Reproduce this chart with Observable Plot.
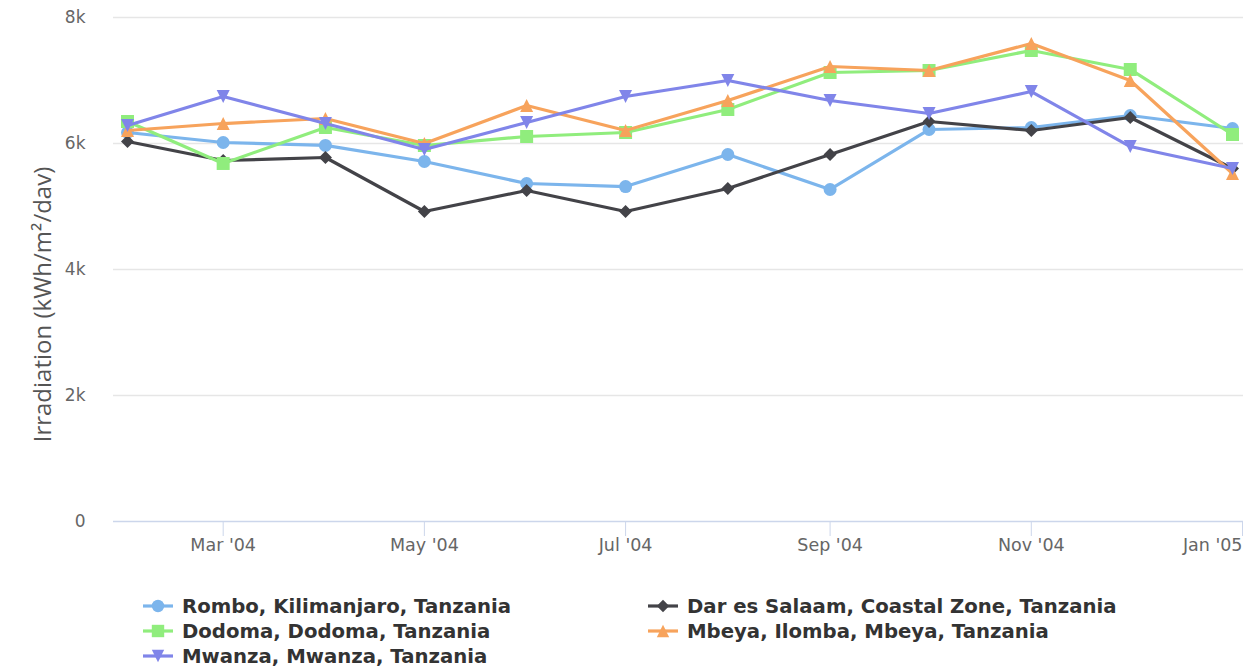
<!DOCTYPE html>
<html><head><meta charset="utf-8">
<script src="https://cdn.jsdelivr.net/npm/d3@7"></script>
<script src="https://cdn.jsdelivr.net/npm/@observablehq/plot@0.6"></script>
<style>
body{margin:0;background:#fff;}
#wrap{position:relative;width:1258px;height:672px;overflow:hidden;background:#fff;}
.leg{position:absolute;height:26px;display:flex;align-items:center;font-family:"DejaVu Sans",sans-serif;font-weight:bold;font-size:19.7px;color:#333;white-space:nowrap;}
.leg svg{margin-right:9px;flex:none;}
</style></head><body><div id="wrap"></div>
<script>
// ---- data ----
const months = ["2004-02-01","2004-03-01","2004-04-01","2004-05-01","2004-06-01","2004-07-01",
                "2004-08-01","2004-09-01","2004-10-01","2004-11-01","2004-12-01","2005-01-01"];
const seriesNames = ["Rombo, Kilimanjaro, Tanzania","Dar es Salaam, Coastal Zone, Tanzania",
                     "Dodoma, Dodoma, Tanzania","Mbeya, Ilomba, Mbeya, Tanzania","Mwanza, Mwanza, Tanzania"];
const rombo   = [6175,6016,5970,5714,5365,5317,5825,5270,6222,6254,6444,6238];
const dar     = [6032,5730,5778,4921,5254,4921,5286,5825,6349,6206,6413,5603];
const dodoma  = [6349,5683,6254,5968,6111,6175,6540,7127,7159,7476,7175,6143];
const mbeya   = [6206,6317,6397,6000,6603,6206,6683,7222,7159,7587,7000,5524];
const mwanza  = [6286,6746,6317,5905,6333,6746,7000,6683,6476,6825,5952,5603];
const seriesValues = [rombo, dar, dodoma, mbeya, mwanza];
const colors = ["#7cb5ec","#434348","#90ed7d","#f7a35c","#8085e9"];
const yTicks = [0,2000,4000,6000,8000];
const yTickLabels = ["0","2k","4k","6k","8k"];
const xTicks = ["2004-03-01","2004-05-01","2004-07-01","2004-09-01","2004-11-01","2005-01-01"];
const xTickLabels = ["Mar '04","May '04","Jul '04","Sep '04","Nov '04","Jan '05"];
const yTitle = "Irradiation (kWh/m²/dav)";

// ---- symbols ----
const mk = f => ({draw(ctx, size){ const r = Math.sqrt(size / Math.PI); f(ctx, r); }});
const symbols = [
  mk((c,r)=>{ c.moveTo(r,0); c.arc(0,0,r,0,2*Math.PI); c.closePath(); }),
  mk((c,r)=>{ c.moveTo(0,-r); c.lineTo(r,0); c.lineTo(0,r); c.lineTo(-r,0); c.closePath(); }),
  mk((c,r)=>{ c.moveTo(-r,-r); c.lineTo(r,-r); c.lineTo(r,r); c.lineTo(-r,r); c.closePath(); }),
  mk((c,r)=>{ c.moveTo(0,-r); c.lineTo(r,r); c.lineTo(-r,r); c.closePath(); }),
  mk((c,r)=>{ c.moveTo(0,r); c.lineTo(r,-r); c.lineTo(-r,-r); c.closePath(); })
];

const parse = s => new Date(s + "T00:00:00Z");
const tables = seriesValues.map((vals, i) => months.map((m, j) => ({date: parse(m), value: vals[j], series: seriesNames[i]})));
const xTickDates = xTicks.map(parse);
const fmtX = d => xTickLabels[xTickDates.findIndex(t => +t === +d)];
const fmtY = v => yTickLabels[yTicks.indexOf(v)];

const marks = [
  Plot.gridY(yTicks.filter(v => v > 0), {stroke: "#e6e6e6", strokeOpacity: 1, strokeWidth: 1.3}),
  Plot.ruleY([0], {stroke: "#ccd6eb", strokeWidth: 1.5}),
  Plot.axisY(yTicks, {tickSize: 0, tickPadding: 28, tickFormat: fmtY, fontSize: 17, fill: "#666", label: null,
    fontFamily: "DejaVu Sans"}),
  Plot.axisX(xTickDates.slice(0, 5), {tickSize: 15, tickPadding: 2, tickFormat: fmtX, fontSize: 17.5, fill: "#666",
    stroke: "#ccd6eb", strokeOpacity: 1, label: null, fontFamily: "DejaVu Sans"}),
  Plot.axisX(xTickDates.slice(5), {tickSize: 15, tickPadding: 2, tickFormat: fmtX, fontSize: 17.5, fill: "#666",
    stroke: "#ccd6eb", strokeOpacity: 1, label: null, fontFamily: "DejaVu Sans", textAnchor: "end", dx: 10}),
  Plot.text([yTitle], {frameAnchor: "left", dx: -70, dy: 35, rotate: -90, fontSize: 24, fill: "#555",
    fontFamily: "Open Sans", lineAnchor: "middle", textAnchor: "middle"})
];
tables.forEach((t, i) => {
  marks.push(Plot.line(t, {x: "date", y: "value", stroke: colors[i], strokeWidth: 3.2}));
  marks.push(Plot.dot(t, {x: "date", y: "value", fill: colors[i], r: 6.5, symbol: symbols[i], stroke: "none"}));
});

const chart = Plot.plot({
  width: 1258, height: 580,
  marginLeft: 113, marginRight: 15, marginTop: 17, marginBottom: 59,
  x: {type: "utc", domain: [new Date(Date.UTC(2004,0,27,18)), new Date(Date.UTC(2005,0,4,8))], axis: null},
  y: {domain: [0, 8000], axis: null},
  style: {background: "#fff", overflow: "visible"},
  marks
});
const wrap = document.getElementById("wrap");
wrap.appendChild(chart);

// ---- legend (HTML, below the SVG) ----
const legPos = [[143,593],[648,593],[143,618],[648,618],[143,643]];
seriesNames.forEach((name, i) => {
  const d = document.createElement("div");
  d.className = "leg";
  d.style.left = legPos[i][0] + "px";
  d.style.top = legPos[i][1] + "px";
  const s = d3.create("svg").attr("width", 30).attr("height", 16);
  s.append("line").attr("x1", 0).attr("x2", 30).attr("y1", 8).attr("y2", 8).attr("stroke", colors[i]).attr("stroke-width", 3.2);
  const p = d3.path();
  symbols[i].draw(p, Math.PI * 6.2 * 6.2);
  s.append("path").attr("transform", "translate(15,8)").attr("d", p.toString()).attr("fill", colors[i]);
  d.appendChild(s.node());
  const span = document.createElement("span");
  span.textContent = name;
  d.appendChild(span);
  wrap.appendChild(d);
});
</script></body></html>
